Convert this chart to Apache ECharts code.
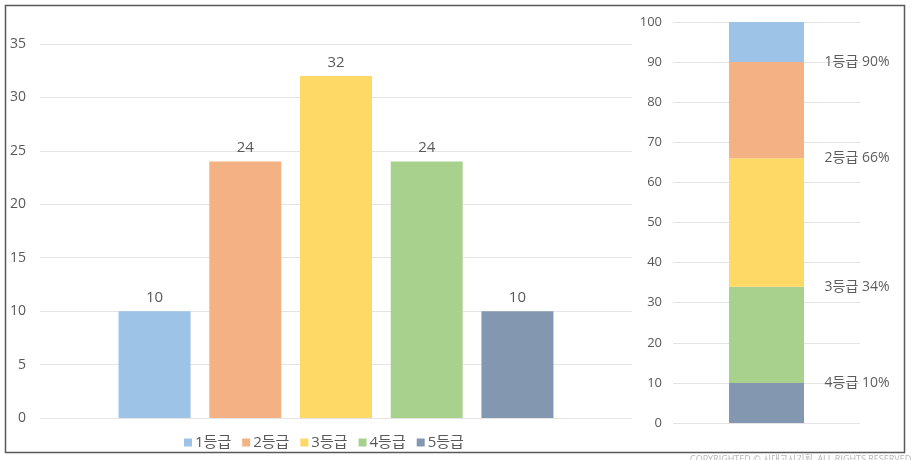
<!DOCTYPE html>
<html>
<head>
<meta charset="utf-8">
<script src="https://cdn.jsdelivr.net/npm/echarts@6/dist/echarts.min.js"></script>
<style>
html,body{margin:0;padding:0;background:#fff;}
#c{width:911px;height:460px;}
</style>
</head>
<body>
<div id="c"></div>
<script>
// ---- data ----
const grades = ['1등급', '2등급', '3등급', '4등급', '5등급'];
const shares = [10, 24, 32, 24, 10];
const colors = ['#9DC3E6', '#F4B183', '#FFD966', '#A9D18E', '#8497B0'];
const leftTicks = { min: 0, max: 35, interval: 5 };
const rightTicks = { min: 0, max: 100, interval: 10 };
const cutoffGrades = ['1등급', '2등급', '3등급', '4등급'];
const cutoffValues = [90, 66, 34, 10];
const watermark = 'COPYRIGHTED © 시대고시기획. ALL RIGHTS RESERVED';

const FONT = '"Open Sans", "Noto Sans CJK KR", sans-serif';
const chart = echarts.init(document.getElementById('c'));

const leftSeries = grades.map((g, i) => ({
  name: g,
  type: 'bar',
  xAxisIndex: 0,
  yAxisIndex: 0,
  data: [shares[i]],
  barWidth: 72,
  barGap: '26%',
  itemStyle: { color: colors[i] },
  label: { show: true, position: 'top', distance: 6, color: '#595959', fontSize: 15, fontFamily: FONT },
  emphasis: { disabled: true }
}));

// stacked: bottom is 5등급
const rightSeries = grades.map((g, i) => i).reverse().map(i => ({
  name: grades[i],
  type: 'bar',
  xAxisIndex: 1,
  yAxisIndex: 1,
  stack: 'total',
  data: [shares[i]],
  barWidth: 75,
  itemStyle: { color: colors[i] },
  emphasis: { disabled: true }
}));

const cutoffSeries = {
  name: 'cutoff',
  type: 'scatter',
  xAxisIndex: 1,
  yAxisIndex: 1,
  symbolSize: 0,
  silent: true,
  z: 10,
  data: cutoffValues.map((v, i) => ({ name: cutoffGrades[i], value: [0, v] })),
  label: {
    show: true,
    position: 'right',
    distance: 58,
    color: '#333333',
    fontSize: 14,
    fontFamily: FONT,
    formatter: p => p.name + ' ' + p.value[1] + '%'
  }
};

const axisCommon = {
  axisLine: { show: false },
  axisTick: { show: false },
  splitLine: { lineStyle: { color: '#E4E4E4', width: 1 } },
  axisLabel: { color: '#595959', fontSize: 14, fontFamily: FONT }
};

chart.setOption({
  backgroundColor: '#ffffff',
  animation: false,
  textStyle: { fontFamily: FONT },
  grid: [
    { left: 40, right: 279, top: 44, bottom: 42 },
    { left: 673, right: 51, top: 22, bottom: 37 }
  ],
  xAxis: [
    { type: 'category', gridIndex: 0, data: ['합계'], axisLine: { show: false }, axisTick: { show: false }, axisLabel: { show: false } },
    { type: 'category', gridIndex: 1, data: ['누적'], axisLine: { show: false }, axisTick: { show: false }, axisLabel: { show: false } }
  ],
  yAxis: [
    Object.assign({ type: 'value', gridIndex: 0, min: leftTicks.min, max: leftTicks.max, interval: leftTicks.interval }, axisCommon,
      { axisLabel: Object.assign({}, axisCommon.axisLabel, { margin: 14 }) }),
    Object.assign({ type: 'value', gridIndex: 1, min: rightTicks.min, max: rightTicks.max, interval: rightTicks.interval }, axisCommon,
      { axisLabel: Object.assign({}, axisCommon.axisLabel, { margin: 11, fontSize: 13 }) })
  ],
  legend: {
    data: grades,
    left: 179,
    top: 430,
    icon: 'rect',
    itemWidth: 8,
    itemHeight: 8,
    itemGap: 11,
    textStyle: { color: '#595959', fontSize: 15, fontFamily: FONT, padding: [0, 0, 0, -2] },
    selectedMode: false
  },
  series: leftSeries.concat(rightSeries, [cutoffSeries]),
  graphic: [
    {
      type: 'rect',
      shape: { x: 5.5, y: 5.5, width: 899, height: 447 },
      style: { fill: 'none', stroke: '#595959', lineWidth: 1.5 },
      silent: true,
      z: 100
    },
    {
      type: 'text',
      left: 690,
      top: 455,
      style: { text: watermark, fill: '#b5b5b5', font: '9px ' + FONT },
      silent: true
    }
  ]
});
</script>
</body>
</html>
